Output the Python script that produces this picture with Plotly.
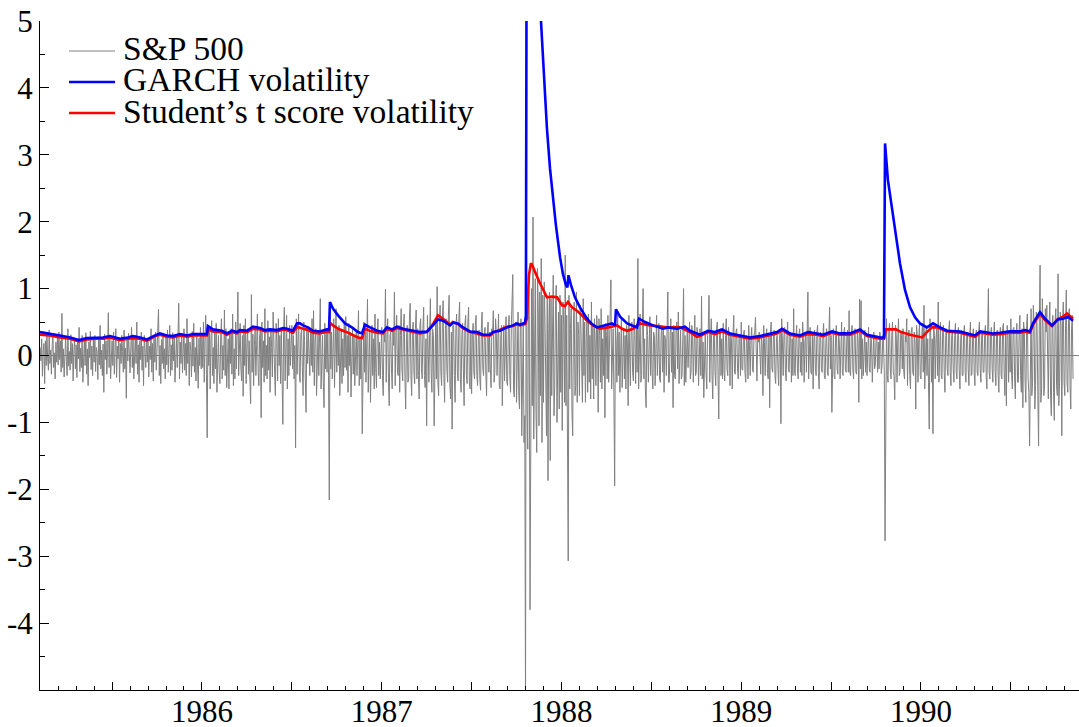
import numpy as np
import plotly.graph_objects as go

# ---------------- data ----------------
# S&P 500 standardized daily returns, one value every 1/240 year from 1985.10
sp_start = 1985.10
sp_step = 1.0 / 240.0
sp500_rows = [
    [.12,-.08,.25,-.31,.05,.18,-.42,.22,-.15,.33,-.05,-.22,.38,-.12,.08,-.28,.15,.30,-.18,.04,-.35,.20,-.10,.27],
    [-.14,.35,-.06,.22,-.25,.63,-.18,.10,-.32,.15,.28,-.09,-.30,.40,-.16,.06,-.22,.31,-.12,.18,-.38,.09,.24,-.20],
    [.16,-.33,.21,-.05,.42,-.24,.11,-.18,.30,-.40,.07,.26,-.15,.34,-.28,.10,-.45,.20,-.03,.36,-.21,.14,-.30,.25],
    [-.10,.30,-.24,.12,.05,-.36,.28,-.14,.45,-.20,.08,-.30,.17,-.55,.32,-.06,.22,-.28,.10,.64,-.18,.26,-.35,.12],
    [.22,-.15,.35,-.28,.08,.40,-.33,.14,-.05,.27,-.40,.18,-.12,.30,.06,-.25,.38,-.20,.11,-.64,.28,-.08,.33,-.18],
    [-.26,.12,.42,-.18,.25,-.35,.08,.30,-.12,.50,-.28,.16,-.40,.22,-.06,.35,-.22,.14,-.45,.30,.05,-.18,.26,-.10],
    [.20,-.32,.14,-.06,.40,-.25,.18,-.38,.28,-.10,.35,-.22,.08,.33,.69,-.30,.15,-.42,.24,-.12,.30,-.20,.10,-.35],
    [.28,-.14,.38,-.25,.10,.45,-.30,.16,-.22,.34,-.08,.26,-.40,.12,.30,-.18,.52,.78,-.35,.20,-.12,.32,-.26,.15],
    [.40,-.22,.18,-.30,.55,-.12,.28,-.45,.20,.08,-.32,.36,-.16,.48,-.25,.12,-.38,.30,-.10,-.49,.26,-.15,.42,-.20],
    [.32,-.18,.50,-.40,.22,.60,-.28,-1.23,.45,-.15,.38,-.50,.25,.52,-.30,.12,-.42,.36,-.20,.48,-.55,.18,.30,-.25],
    [-.42,.28,.55,-.35,.15,-.22,.68,-.30,.40,-.48,.20,.25,-.50,.35,-.12,.40,-.28,.62,-.45,.10,-.35,.50,-.20,.30],
    [.95,-.30,.25,.48,-.20,-.38,.30,-.61,.45,-.15,.55,-.42,.18,.40,-.28,.22,-.35,-.72,.91,-.25,.32,-.45,.15,.40],
    [-.30,.45,.62,-.25,-.45,.30,.38,-.93,.50,-.18,.22,-.40,.70,-.30,.15,-.35,.52,-.22,.28,-.55,.40,.12,-.32,.65],
    [.35,-.25,-.60,.48,.20,-.38,.55,-.15,.30,-.42,.40,-.22,-1.03,.35,.72,-.38,.18,.60,-.50,.25,-.30,.45,-.15,.30],
    [.45,-.20,.30,-.35,.15,-1.38,.55,-.28,.40,.62,-.25,-.40,.32,.38,-.18,-.60,.50,.22,-.35,-.85,.42,-.12,.35,-.30],
    [-.30,.40,-.15,.55,-.25,.67,-.45,.20,.40,-.60,.18,.35,-.30,.25,.85,-.50,.12,.30,-.40,-.78,.48,-.20,.35,-.25],
    [.40,-.30,-2.16,.62,-.20,.35,-.35,.15,.55,-.48,.30,.70,-.25,.40,-.15,.45,-.60,.22,.38,-.42,.25,-.30,.50,-.18],
    [.58,-.22,.30,-.55,.48,-.15,.35,-.62,.20,.42,-.28,.30,-.45,.15,.38,-.30,.20,.67,-.45,.25,-.35,.30,-1.17,.40],
    [.50,-.25,.35,-.40,.20,.84,-.55,.30,.38,-.70,.15,.45,-.30,.25,-.50,.62,-.20,-.48,.35,.55,-.30,.20,-.35,.40],
    [.42,-.30,-.60,.35,.20,.99,-.40,.25,.55,-.35,-.75,.30,.35,-.20,-.50,.40,.15,.95,-.45,.30,.60,-.25,-.30,.45],
    [-.55,.30,.70,-.20,-.38,.45,.62,-.35,-.80,.25,.45,-.40,-.35,.55,.78,-.30,-.60,.35,.50,-.25,-.42,.40,.68,-.35],
    [.40,-.30,-.65,.45,.55,-.20,-.35,.40,.72,-.30,-.48,.25,-1.05,.60,.20,-.40,.35,.85,-.25,-.55,.40,.30,-1.05,.50],
    [.50,-.35,1.03,-.40,-.60,.45,.75,-.25,-.45,.55,.82,-.30,-.70,.40,.55,-.20,-.40,.60,.90,-.45,-.65,.35,-1.10,.45],
    [.45,-.30,-.70,.40,.62,-.25,-.38,.55,.80,-.35,-.55,.30,.48,-.20,-.75,.45,.60,-.30,-.42,.50,.72,-.40,-.50,.35],
    [-.57,.30,.48,-.25,-.35,.45,.60,-.30,-.45,.25,.38,-.35,-.52,.40,.65,-.20,-.30,.35,.42,-.28,-.60,.30,.50,-.25],
    [.35,-.20,-.48,.40,.30,.67,-.40,-.25,.55,.35,-.30,.20,.62,-.45,-.50,.30,.45,-.75,.40,.45,-.38,.30,.58,-.40],
    [-.45,.35,.60,-.30,-.55,.40,.70,1.21,-.50,-.62,.45,.50,-.70,.35,.65,-.60,-.80,.40,.55,-1.20,.30,.45,-1.30,-.90],
    [-5.30,3.75,-.80,-1.40,1.20,.60,-3.80,-1.10,1.00,-.75,2.07,-1.25,.80,1.15,-.85,-1.45,1.30,.70,-1.05,.95,-.60,1.45,-1.30,.90],
    [-.70,1.10,.50,-.55,-1.20,.85,-1.87,.40,.95,-1.57,.85,-.60,.70,1.20,-.90,-.45,.75,1.05,-1.00,.35,.65,-.80,.90,-.55],
    [.60,-1.12,.80,.45,-.70,1.50,-.75,.60,-.90,-3.07,.90,-.50,.40,.70,-.85,-1.20,.55,.80,-.60,-.45,.95,-.70,.50,.30],
    [-.60,.75,.40,-.45,-.70,.85,-.30,.50,-.70,.25,.50,-.55,.62,-.40,.30,-.65,.80,-.35,.45,-.65,.55,.20,-.45,.60],
    [.40,-.85,.55,.30,-.40,.70,-.50,.25,-.30,.45,-.93,.48,.30,-.35,.60,-.40,.25,.55,1.13,-.50,.35,.40,-.60,-1.95],
    [.45,.20,-.40,.65,-.30,.35,-.55,.40,.55,-.48,.25,.40,-.35,.30,-.50,.45,.20,-.75,.60,-.30,-.45,.40,.50,-.25],
    [-.38,.55,.30,-.42,.40,-.25,1.45,-.50,.35,.62,-.40,-.30,.45,1.00,-.35,.25,-.50,-.78,.48,.30,-.40,.35,.58,-.30],
    [.42,-.25,-.50,.35,.30,-.45,.25,.60,-.30,.20,.48,-.35,-.40,.30,.45,-.25,.38,-.55,.30,.22,-.30,.40,.95,-.40],
    [-.40,.30,.55,-.25,.35,-.78,.45,-.30,-.35,.40,.50,-.20,.65,-.42,.30,.38,-.35,-.30,.25,1.00,-.45,.30,-.40,.35],
    [.40,-.18,.30,.50,-.35,-.25,.45,.30,-.40,.35,.60,-.30,-.25,.42,.30,-.45,.25,.40,-.30,.89,-.35,.20,-.63,.35],
    [.35,-.25,-.50,.30,.40,.90,-.40,.25,.55,-.30,-.65,.30,.35,-.25,-.45,.40,.50,-.30,-.95,.30,.40,-.30,.25,-.35],
    [.48,-.25,-.38,.30,.55,-.20,-.30,.42,.25,-.45,.35,.20,-.50,.30,.60,-.25,-.28,.35,.40,-.20,-.35,.25,.30,-.30],
    [.50,-.20,-.22,.30,.38,-.25,-.40,.30,.20,-.35,.45,.15,-.30,.25,.42,-.20,-.25,.30,.35,.57,-.30,-.38,.25,.20],
    [.35,-.20,-.28,.30,.15,-.60,.45,.20,-.30,.25,.40,-.25,-.35,.30,-.78,.35,.50,-.20,-.25,.30,.38,-.30,-.42,.25],
    [.30,-.20,-.45,.25,.35,-1.02,.55,.20,-.30,.30,.42,-.25,-.38,.30,.50,-.20,-.25,.35,.30,-.40,.25,-.30,.70,-.20],
    [-.30,.25,.45,-.20,-.35,.30,.40,-.25,.20,-.30,.50,.25,-.40,.20,.30,-.25,.35,.95,-.35,.20,.42,-.25,-.28,.30],
    [-.50,.25,.38,-.20,-.30,.35,.45,-.25,-.50,.30,.35,-.20,-.25,.30,.48,-.30,-.35,.20,.40,-.25,-.30,.30,.72,-.20],
    [.30,-.85,.25,.40,-.30,-.35,.30,.45,-.20,-.28,.35,.20,-.35,.30,.50,-.25,-.30,.35,.42,-.20,-.25,.30,.38,-.25],
    [.67,-.25,-.30,.35,.45,-.20,-.35,.30,.40,-.25,-.28,.35,.20,-.70,.84,-.20,.82,-.35,.25,-.30,.30,.38,-.25,.20],
    [-.30,.25,.42,-.20,-.25,.30,.20,-.40,.25,.35,-.20,-.15,.25,.30,-.25,.20,-.20,.35,.25,-.27,-.15,.30,.20,-.25],
    [-2.77,.45,.55,-.30,-.40,.35,.48,-.20,-.35,.30,.50,-.25,-.30,-.66,.45,.30,-.40,.25,.55,-.30,-.25,.35,.30,-.20],
    [.40,-.25,-.35,.30,.20,.55,-.45,.25,.38,-.30,-.50,.35,.42,-.25,-.30,.35,.20,-.80,.45,.30,-.40,.25,.50,-.30],
    [-.35,.30,.48,-.25,.75,-.50,.35,.42,-.30,.25,-.40,-1.10,.55,.30,-.40,.25,-1.17,.45,.30,-.35,.25,.40,-.30,.80],
    [-.40,.25,.50,-.30,-.35,.40,.45,-.25,-.55,.30,.40,-.20,-.30,.35,.52,-.25,-.45,.30,.38,-.20,-.40,.30,.48,-.25],
    [-.35,.30,.42,-.20,-.50,.25,.38,-.30,-.30,.35,.45,-.25,-.40,.30,.35,-.20,-.45,.25,.50,-.30,-.28,.30,.40,-.25],
    [-.45,.30,.38,-.25,-.30,.35,.50,-.20,-.40,.30,.35,-.25,-.25,.30,.45,-.30,-.50,.35,1.00,-.25,-.35,.30,.42,-.20],
    [-.40,.30,.50,-.25,-.45,.35,.38,-.30,-.55,.25,.42,-.30,-.35,.40,.48,-.25,-.60,.35,-.75,.45,.30,-.40,.35,-.25],
    [.55,-.30,-.50,.40,.42,-.35,-.65,.30,.48,-.40,-.40,.35,.60,-.30,-.55,.40,-.78,.50,.35,-.40,-.70,.45,.62,-.35],
    [-.55,-1.35,.45,.70,-.60,-.40,.75,.50,-.80,-.45,.65,.40,-.60,-1.35,.55,1.35,-.70,-.50,.85,.40,-.60,-.45,.70,.35],
    [.75,-.50,-.65,.45,.80,-.60,-.90,.40,.60,-.55,-.97,.50,.70,-.45,-.60,1.22,-.75,-.40,.65,.45,-1.20,.50,.80,-.40],
    [-.60,.45,.98,-.40,-.55,.50,.70,-.45,-.80,.40,.60,-.35],
]

# GARCH volatility (knots: decimal year, value)
garch_x = [1985.099,1985.154,1985.210,1985.266,1985.316,1985.360,1985.405,1985.449,1985.488,1985.544,1985.588,1985.616,1985.655,1985.694,1985.739,1985.766,1985.805,1985.839,1985.878,1985.917,1985.950,1985.989,
           1986.028,1986.033,1986.061,1986.111,1986.139,1986.167,1986.195,1986.211,1986.250,1986.284,1986.323,1986.350,1986.378,1986.417,1986.451,1986.473,1986.506,1986.529,1986.545,1986.562,1986.590,1986.618,1986.656,1986.695,1986.707,1986.712,1986.729,1986.757,1986.796,1986.834,1986.868,1986.890,1986.907,1986.935,1986.974,
           1987.007,1987.029,1987.057,1987.085,1987.118,1987.146,1987.174,1987.213,1987.252,1987.285,1987.313,1987.341,1987.380,1987.396,1987.424,1987.452,1987.491,1987.530,1987.563,1987.602,1987.619,1987.658,1987.697,1987.730,1987.752,1987.769,1987.797,1987.802,1987.810,1987.830,1987.853,1987.886,1987.903,1987.919,1987.936,1987.953,1987.969,1987.992,
           1988.008,1988.025,1988.033,1988.039,1988.053,1988.075,1988.103,1988.142,1988.170,1988.197,1988.248,1988.281,1988.298,1988.303,1988.326,1988.365,1988.420,1988.431,1988.465,1988.509,1988.565,1988.593,1988.643,1988.687,1988.715,1988.770,1988.815,1988.854,1988.893,1988.937,1988.993,
           1989.049,1989.104,1989.160,1989.199,1989.227,1989.271,1989.327,1989.371,1989.421,1989.455,1989.505,1989.549,1989.605,1989.661,1989.700,1989.772,1989.794,1989.800,1989.816,1989.828,1989.844,1989.861,1989.883,1989.911,1989.939,1989.967,1989.994,
           1990.033,1990.067,1990.106,1990.145,1990.217,1990.300,1990.330,1990.356,1990.400,1990.439,1990.495,1990.551,1990.579,1990.606,1990.623,1990.662,1990.690,1990.729,1990.762,1990.790,1990.818,1990.846]
garch_y = [0.35,0.33,0.30,0.27,0.23,0.26,0.27,0.27,0.29,0.25,0.27,0.29,0.27,0.24,0.30,0.33,0.30,0.29,0.32,0.30,0.32,0.32,
           0.32,0.44,0.39,0.37,0.33,0.37,0.35,0.38,0.37,0.43,0.41,0.38,0.39,0.38,0.41,0.40,0.37,0.48,0.48,0.45,0.42,0.37,0.36,0.39,0.39,0.80,0.70,0.60,0.48,0.42,0.35,0.33,0.46,0.42,0.37,
           0.35,0.42,0.39,0.43,0.40,0.39,0.37,0.35,0.36,0.45,0.54,0.52,0.45,0.49,0.48,0.42,0.36,0.35,0.31,0.31,0.35,0.37,0.42,0.45,0.48,0.46,0.49,0.60,11.5,8.9,7.0,5.0,4.1,3.4,2.8,2.35,1.95,1.47,
           1.22,1.05,1.02,1.20,1.05,0.87,0.72,0.55,0.47,0.42,0.45,0.48,0.45,0.69,0.58,0.48,0.42,0.55,0.50,0.45,0.40,0.42,0.40,0.43,0.37,0.31,0.37,0.35,0.39,0.33,0.30,
           0.27,0.29,0.33,0.35,0.40,0.33,0.30,0.35,0.33,0.31,0.36,0.33,0.33,0.39,0.31,0.27,0.27,3.17,2.62,2.40,2.12,1.75,1.38,0.98,0.72,0.57,0.48,
           0.42,0.48,0.42,0.37,0.36,0.30,0.36,0.35,0.33,0.34,0.36,0.36,0.38,0.36,0.48,0.65,0.55,0.45,0.54,0.55,0.58,0.52]

# Student's t score volatility (knots: decimal year, value)
student_pts = [
    (1985.099,0.31),(1985.154,0.30),(1985.210,0.27),(1985.266,0.25),(1985.316,0.21),(1985.360,0.24),
    (1985.405,0.25),(1985.449,0.25),(1985.488,0.27),(1985.544,0.23),(1985.588,0.25),(1985.616,0.26),
    (1985.655,0.25),(1985.694,0.22),(1985.739,0.29),(1985.766,0.31),(1985.805,0.28),(1985.839,0.27),
    (1985.878,0.30),(1985.917,0.28),(1985.950,0.30),(1985.989,0.30),(1986.028,0.30),(1986.033,0.39),
    (1986.061,0.36),(1986.111,0.35),(1986.139,0.31),(1986.167,0.35),(1986.195,0.33),(1986.211,0.36),
    (1986.250,0.35),(1986.284,0.40),(1986.323,0.39),(1986.350,0.36),(1986.378,0.37),(1986.417,0.36),
    (1986.451,0.39),(1986.473,0.38),(1986.506,0.34),(1986.529,0.43),(1986.545,0.42),(1986.562,0.40),
    (1986.590,0.38),(1986.618,0.34),(1986.656,0.33),(1986.695,0.36),(1986.707,0.35),(1986.712,0.49),
    (1986.729,0.45),(1986.757,0.40),(1986.796,0.36),(1986.834,0.31),(1986.868,0.27),(1986.890,0.26),
    (1986.907,0.40),(1986.935,0.37),(1986.974,0.34),(1987.007,0.33),(1987.029,0.40),(1987.057,0.37),
    (1987.085,0.41),(1987.118,0.39),(1987.146,0.37),(1987.174,0.35),(1987.213,0.33),(1987.252,0.35),
    (1987.285,0.47),(1987.313,0.60),(1987.341,0.55),(1987.380,0.46),(1987.396,0.50),(1987.424,0.47),
    (1987.452,0.41),(1987.491,0.35),(1987.530,0.33),(1987.563,0.30),(1987.602,0.30),(1987.619,0.34),
    (1987.658,0.38),(1987.697,0.43),(1987.730,0.44),(1987.752,0.47),(1987.769,0.45),(1987.797,0.47),
    (1987.808,0.55),(1987.819,1.20),(1987.830,1.38),(1987.841,1.33),(1987.853,1.25),(1987.864,1.17),
    (1987.880,1.08),(1987.892,1.02),(1987.908,0.93),(1987.919,0.87),(1987.947,0.88),(1987.975,0.87),
    (1987.992,0.80),(1988.003,0.75),(1988.019,0.74),(1988.036,0.80),(1988.058,0.72),(1988.086,0.67),
    (1988.114,0.60),(1988.142,0.52),(1988.175,0.45),(1988.214,0.40),(1988.259,0.42),(1988.309,0.45),
    (1988.337,0.40),(1988.365,0.37),(1988.398,0.40),(1988.437,0.48),(1988.493,0.45),(1988.587,0.42),
    (1988.660,0.42),(1988.715,0.35),(1988.754,0.28),(1988.770,0.29),(1988.815,0.35),(1988.854,0.32),
    (1988.893,0.36),(1988.937,0.31),(1988.993,0.28),(1989.049,0.25),(1989.104,0.27),(1989.160,0.31),
    (1989.199,0.33),(1989.227,0.38),(1989.271,0.31),(1989.327,0.28),(1989.371,0.32),(1989.421,0.31),
    (1989.455,0.29),(1989.505,0.34),(1989.549,0.31),(1989.605,0.31),(1989.661,0.37),(1989.700,0.29),
    (1989.772,0.25),(1989.794,0.25),(1989.805,0.39),(1989.861,0.39),(1989.889,0.35),(1989.939,0.31),
    (1989.978,0.28),(1990.006,0.27),(1990.033,0.35),(1990.061,0.42),(1990.089,0.42),(1990.145,0.36),
    (1990.217,0.34),(1990.300,0.28),(1990.330,0.34),(1990.356,0.33),(1990.400,0.31),(1990.439,0.32),
    (1990.495,0.34),(1990.551,0.34),(1990.579,0.36),(1990.606,0.34),(1990.623,0.46),(1990.662,0.62),
    (1990.690,0.53),(1990.729,0.44),(1990.762,0.55),(1990.790,0.58),(1990.812,0.63),(1990.846,0.55),
]

series_names = ["S&P 500", "GARCH volatility", "Student\u2019s t score volatility"]
series_colors = ["#808080", "#0000ff", "#ff0000"]

x_range = [1985.099, 1990.879]
y_range = [-5, 5]
xtick_vals = [1985.5, 1986, 1986.5, 1987, 1987.5, 1988, 1988.5, 1989, 1989.5, 1990, 1990.5]
xtick_text = ["", "1986", "", "1987", "", "1988", "", "1989", "", "1990", ""]
ytick_vals = [-4, -3, -2, -1, 0, 1, 2, 3, 4, 5]
ytick_text = ["-4", "-3", "-2", "-1", "0", "1", "2", "3", "4", "5"]

# ---------------- build ----------------
sp500 = [v for row in sp500_rows for v in row]
sp_x = sp_start + sp_step * np.arange(len(sp500))
student_x = [p[0] for p in student_pts]
student_y = [p[1] for p in student_pts]

FONT = "Liberation Serif, Times New Roman, DejaVu Serif, serif"

fig = go.Figure()
fig.add_trace(go.Scatter(x=sp_x, y=sp500, mode="lines", name=series_names[0],
                         line=dict(color=series_colors[0], width=1), showlegend=False))
fig.add_trace(go.Scatter(x=student_x, y=student_y, mode="lines", name=series_names[2],
                         line=dict(color=series_colors[2], width=2.6), showlegend=False))
fig.add_trace(go.Scatter(x=garch_x, y=garch_y, mode="lines", name=series_names[1],
                         line=dict(color=series_colors[1], width=2.6), showlegend=False))

W, H = 1079, 727
ML, MR, MT, MB = 40, 0, 21, 37
pw, ph = W - ML - MR, H - MT - MB


def px2paper_x(px):
    return (px - ML) / pw


def px2paper_y(py):
    return (H - MB - py) / ph


# hand-drawn legend (line samples + labels)
leg_line_y = [51, 82, 113]
leg_text_y = [48, 80, 111]
leg_widths = [1, 2.6, 2.6]
for i in range(3):
    fig.add_shape(type="line", xref="paper", yref="paper",
                  x0=px2paper_x(69), x1=px2paper_x(115),
                  y0=px2paper_y(leg_line_y[i]), y1=px2paper_y(leg_line_y[i]),
                  line=dict(color=series_colors[i], width=leg_widths[i]))
    fig.add_annotation(xref="paper", yref="paper", x=px2paper_x(121), y=px2paper_y(leg_text_y[i]),
                       xanchor="left", yanchor="middle", showarrow=False,
                       text=series_names[i], font=dict(family=FONT, size=33.5, color="black"))

fig.update_layout(
    width=W, height=H,
    margin=dict(l=ML, r=MR, t=MT, b=MB, pad=0, autoexpand=False),
    paper_bgcolor="white", plot_bgcolor="white",
    font=dict(family=FONT, size=31, color="black"),
    showlegend=False,
)
fig.update_xaxes(
    range=x_range, showgrid=False, zeroline=False, automargin=False,
    showline=True, linecolor="black", linewidth=1,
    tickmode="array", tickvals=xtick_vals, ticktext=xtick_text,
    ticks="inside", ticklen=8, tickwidth=1, tickcolor="black",
    ticklabelstandoff=-6,
    tickfont=dict(family=FONT, size=31, color="black"),
    minor=dict(tickmode="linear", tick0=1985.0, dtick=0.1, ticks="inside",
               ticklen=4, tickwidth=1, tickcolor="black", showgrid=False),
)
fig.update_yaxes(
    range=y_range, showgrid=False, automargin=False,
    zeroline=True, zerolinecolor="#808080", zerolinewidth=1,
    showline=True, linecolor="black", linewidth=1,
    tickmode="array", tickvals=ytick_vals, ticktext=ytick_text,
    ticks="inside", ticklen=9, tickwidth=1, tickcolor="black",
    tickfont=dict(family=FONT, size=31, color="black"),
    minor=dict(tickmode="linear", tick0=0, dtick=0.5, ticks="inside",
               ticklen=4.5, tickwidth=1, tickcolor="black", showgrid=False),
)

fig.write_html(
    "out.html",
    config={"displayModeBar": False},
    post_script="document.body.style.margin='0px';document.body.style.overflow='hidden';",
)
